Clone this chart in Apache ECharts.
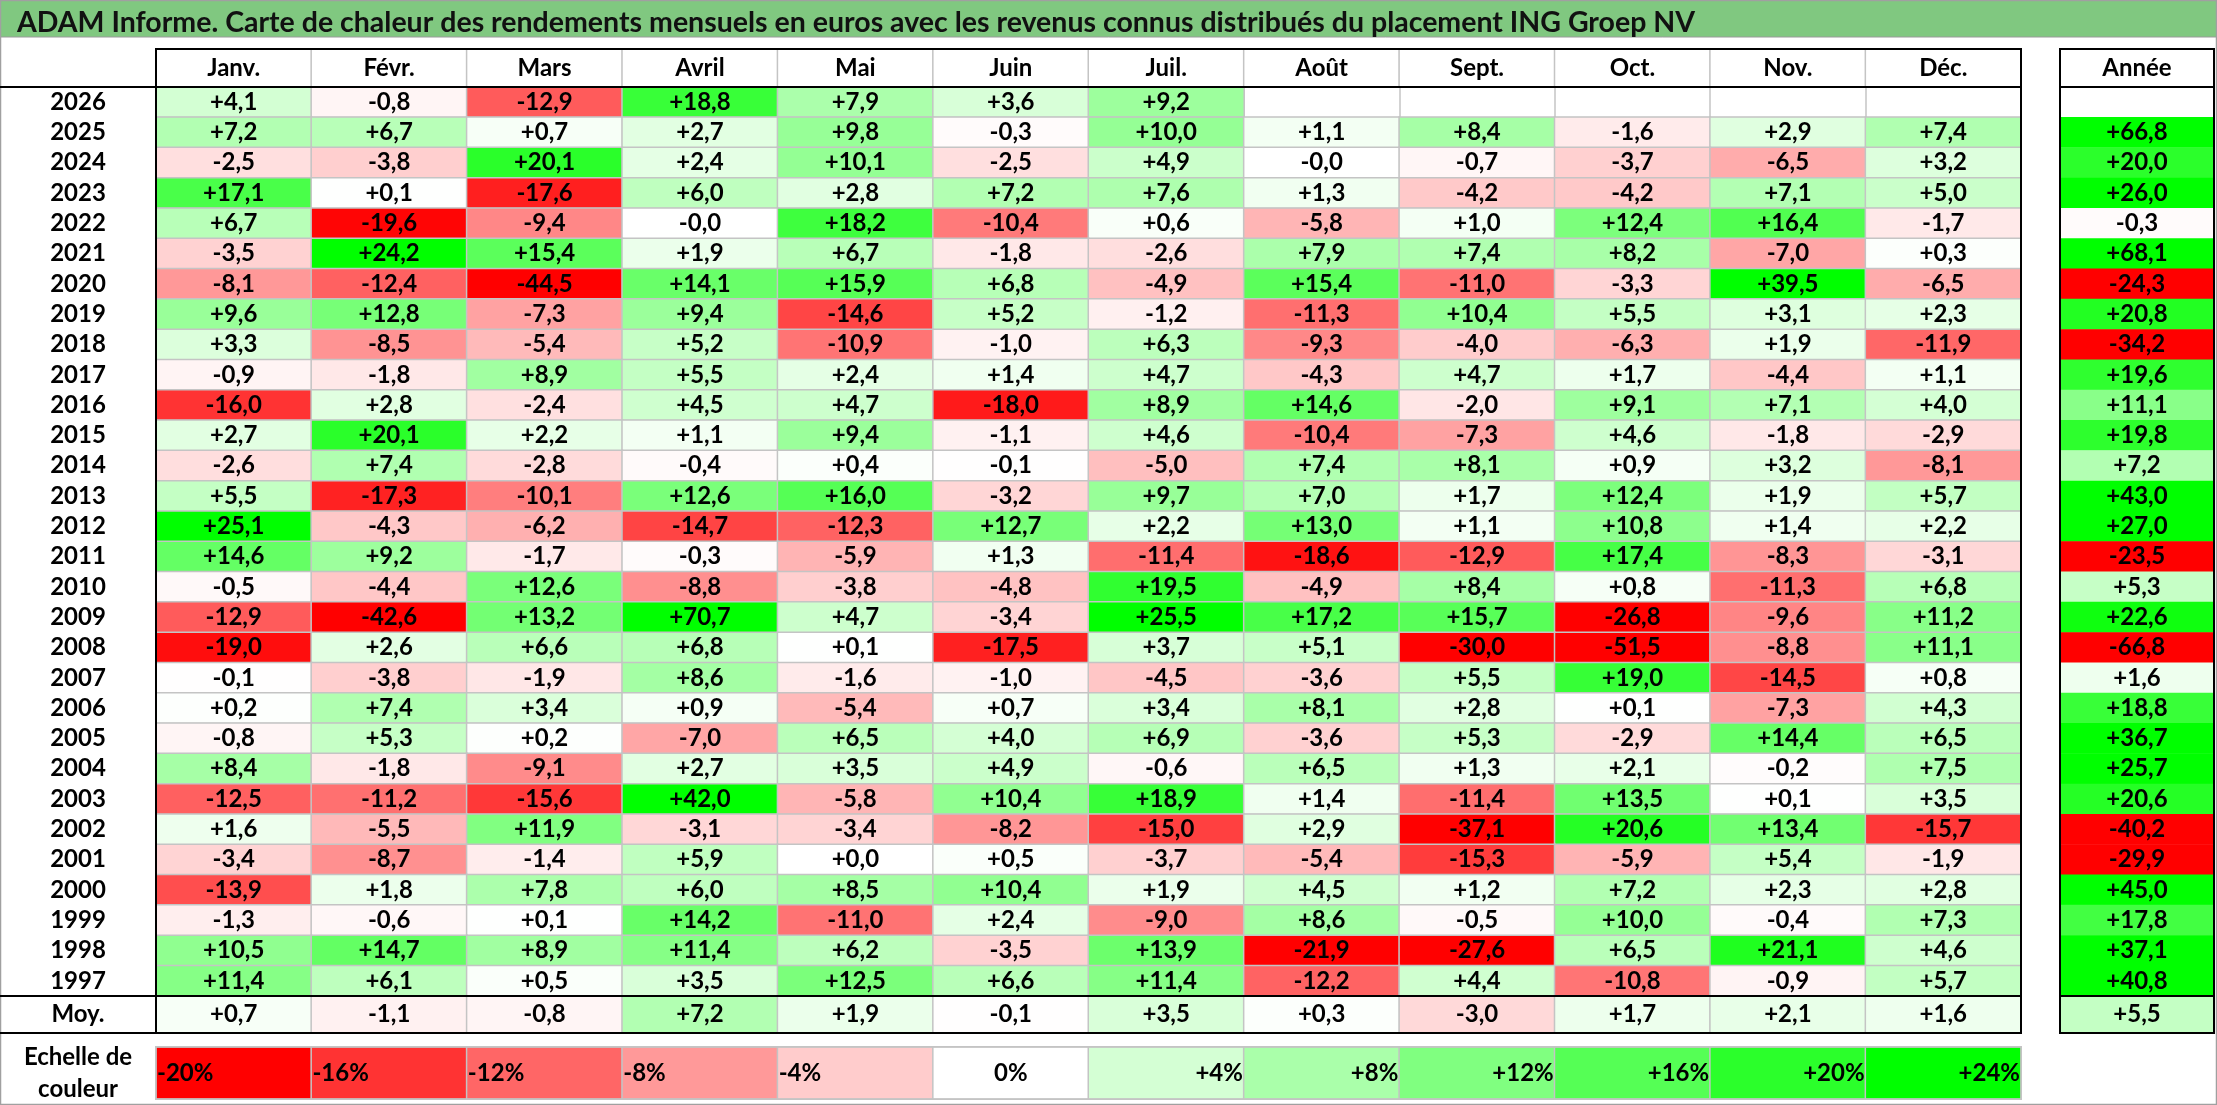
<!DOCTYPE html>
<html><head><meta charset="utf-8">
<script src="https://cdn.jsdelivr.net/npm/echarts@6/dist/echarts.min.js"></script>
<style>html,body{margin:0;padding:0;background:#fff}#c{width:2217px;height:1105px}</style>
</head><body><div id="c"></div>
<script>
const chartTitle = 'ADAM Informe. Carte de chaleur des rendements mensuels en euros avec les revenus connus distribués du placement ING Groep NV';
const months = ['Janv.','Févr.','Mars','Avril','Mai','Juin','Juil.','Août','Sept.','Oct.','Nov.','Déc.'];
const annualHeader = 'Année';
const averageLabel = 'Moy.';
const scaleLabel = 'Echelle de\ncouleur';
const years = [2026,2025,2024,2023,2022,2021,2020,2019,2018,2017,2016,2015,2014,2013,2012,2011,2010,2009,2008,2007,2006,2005,2004,2003,2002,2001,2000,1999,1998,1997];
const monthlyReturns = [
  [4.1,-0.8,-12.9,18.8,7.9,3.6,9.2,null,null,null,null,null],
  [7.2,6.7,0.7,2.7,9.8,-0.3,10.0,1.1,8.4,-1.6,2.9,7.4],
  [-2.5,-3.8,20.1,2.4,10.1,-2.5,4.9,-0.0,-0.7,-3.7,-6.5,3.2],
  [17.1,0.1,-17.6,6.0,2.8,7.2,7.6,1.3,-4.2,-4.2,7.1,5.0],
  [6.7,-19.6,-9.4,-0.0,18.2,-10.4,0.6,-5.8,1.0,12.4,16.4,-1.7],
  [-3.5,24.2,15.4,1.9,6.7,-1.8,-2.6,7.9,7.4,8.2,-7.0,0.3],
  [-8.1,-12.4,-44.5,14.1,15.9,6.8,-4.9,15.4,-11.0,-3.3,39.5,-6.5],
  [9.6,12.8,-7.3,9.4,-14.6,5.2,-1.2,-11.3,10.4,5.5,3.1,2.3],
  [3.3,-8.5,-5.4,5.2,-10.9,-1.0,6.3,-9.3,-4.0,-6.3,1.9,-11.9],
  [-0.9,-1.8,8.9,5.5,2.4,1.4,4.7,-4.3,4.7,1.7,-4.4,1.1],
  [-16.0,2.8,-2.4,4.5,4.7,-18.0,8.9,14.6,-2.0,9.1,7.1,4.0],
  [2.7,20.1,2.2,1.1,9.4,-1.1,4.6,-10.4,-7.3,4.6,-1.8,-2.9],
  [-2.6,7.4,-2.8,-0.4,0.4,-0.1,-5.0,7.4,8.1,0.9,3.2,-8.1],
  [5.5,-17.3,-10.1,12.6,16.0,-3.2,9.7,7.0,1.7,12.4,1.9,5.7],
  [25.1,-4.3,-6.2,-14.7,-12.3,12.7,2.2,13.0,1.1,10.8,1.4,2.2],
  [14.6,9.2,-1.7,-0.3,-5.9,1.3,-11.4,-18.6,-12.9,17.4,-8.3,-3.1],
  [-0.5,-4.4,12.6,-8.8,-3.8,-4.8,19.5,-4.9,8.4,0.8,-11.3,6.8],
  [-12.9,-42.6,13.2,70.7,4.7,-3.4,25.5,17.2,15.7,-26.8,-9.6,11.2],
  [-19.0,2.6,6.6,6.8,0.1,-17.5,3.7,5.1,-30.0,-51.5,-8.8,11.1],
  [-0.1,-3.8,-1.9,8.6,-1.6,-1.0,-4.5,-3.6,5.5,19.0,-14.5,0.8],
  [0.2,7.4,3.4,0.9,-5.4,0.7,3.4,8.1,2.8,0.1,-7.3,4.3],
  [-0.8,5.3,0.2,-7.0,6.5,4.0,6.9,-3.6,5.3,-2.9,14.4,6.5],
  [8.4,-1.8,-9.1,2.7,3.5,4.9,-0.6,6.5,1.3,2.1,-0.2,7.5],
  [-12.5,-11.2,-15.6,42.0,-5.8,10.4,18.9,1.4,-11.4,13.5,0.1,3.5],
  [1.6,-5.5,11.9,-3.1,-3.4,-8.2,-15.0,2.9,-37.1,20.6,13.4,-15.7],
  [-3.4,-8.7,-1.4,5.9,0.0,0.5,-3.7,-5.4,-15.3,-5.9,5.4,-1.9],
  [-13.9,1.8,7.8,6.0,8.5,10.4,1.9,4.5,1.2,7.2,2.3,2.8],
  [-1.3,-0.6,0.1,14.2,-11.0,2.4,-9.0,8.6,-0.5,10.0,-0.4,7.3],
  [10.5,14.7,8.9,11.4,6.2,-3.5,13.9,-21.9,-27.6,6.5,21.1,4.6],
  [11.4,6.1,0.5,3.5,12.5,6.6,11.4,-12.2,4.4,-10.8,-0.9,5.7]
];
const annualReturns = [null,66.8,20.0,26.0,-0.3,68.1,-24.3,20.8,-34.2,19.6,11.1,19.8,7.2,43.0,27.0,-23.5,5.3,22.6,-66.8,1.6,18.8,36.7,25.7,20.6,-40.2,-29.9,45.0,17.8,37.1,40.8];
const monthlyAverage = [0.7,-1.1,-0.8,7.2,1.9,-0.1,3.5,0.3,-3.0,1.7,2.1,1.6];
const annualAverage = [5.5];
const scaleSteps = [-20,-16,-12,-8,-4,0,4,8,12,16,20,24];

// layout (pixels)
const W = 2217, H = 1105;
const TL = 156, TW = 1865, AL = 2060, AW = 154;
const HT = 49, HH = 38, DT = 87, DH = 909, MT = 996, MH = 37, ST = 1047, SH = 56;
const FONT = 'Lato';
const GRID_LINE = '#C4C4C4';
const FS = 24;

function fmt(v) {
  const neg = v < 0 || Object.is(v, -0);
  return (neg ? '-' : '+') + Math.abs(v).toFixed(1).replace('.', ',');
}
const cellLabel = { show: true, color: '#000', fontFamily: FONT, fontWeight: 'bold', fontSize: FS };
const cellItem = { borderColor: GRID_LINE, borderWidth: 1.5 };

function grid(left, top, width, height) {
  return { left, top, width, height, show: true, z: 10, borderColor: '#000', borderWidth: 2, backgroundColor: 'transparent' };
}
function catAxis(gridIndex, data, opts) {
  return Object.assign({
    gridIndex, type: 'category', data, inverse: false,
    axisLine: { show: false }, axisTick: { show: false }, axisLabel: { show: false },
    splitLine: { show: false }
  }, opts || {});
}
const sideLabel = { show: true, interval: 0, color: '#000', fontFamily: FONT, fontWeight: 'bold', fontSize: FS, align: 'center', margin: TL / 2, lineHeight: 32 };

const mainData = [];
monthlyReturns.forEach((row, y) => row.forEach((v, x) => { if (v !== null) mainData.push([x, y, v]); }));
const annualData = [];
annualReturns.forEach((v, y) => { if (v !== null) annualData.push([0, y, v]); });

const colorStops = ['#FF0000','#FF0000','#FF3333','#FF6666','#FF9999','#FFCCCC','#FFFFFF','#D4FFD4','#AAFFAA','#80FF80','#55FF55','#2BFF2B','#00FF00'];

const option = {
  animation: false,
  backgroundColor: '#fff',
  title: {
    text: chartTitle, left: 12, top: 3,
    textStyle: { fontFamily: FONT, fontWeight: 'bold', fontSize: 28.5, color: '#111' }
  },
  graphic: [
    { type: 'rect', shape: { x: 0, y: 0, width: W, height: 37 }, style: { fill: '#80C880', stroke: '#9A9A9A', lineWidth: 1 }, z: -1 },
    { type: 'rect', shape: { x: 0.5, y: 0.5, width: W - 1, height: H - 1 }, style: { fill: 'none', stroke: '#A0A0A0', lineWidth: 1.5 }, z: 100 },
    { type: 'line', shape: { x1: 0, y1: DT, x2: TL, y2: DT }, style: { stroke: '#000', lineWidth: 2 }, z: 100 },
    { type: 'line', shape: { x1: 0, y1: MT, x2: TL, y2: MT }, style: { stroke: '#000', lineWidth: 2 }, z: 100 },
    { type: 'line', shape: { x1: 0, y1: MT + MH, x2: TL, y2: MT + MH }, style: { stroke: '#000', lineWidth: 2 }, z: 100 }
  ],
  grid: [
    grid(TL, HT, TW, HH),
    grid(TL, DT, TW, DH),
    grid(TL, MT, TW, MH),
    grid(AL, HT, AW, HH),
    grid(AL, DT, AW, DH),
    grid(AL, MT, AW, MH),
    Object.assign(grid(TL, ST, TW, SH), { borderColor: GRID_LINE, borderWidth: 1.5 })
  ],
  xAxis: [
    catAxis(0, months),
    catAxis(1, months, { splitLine: { show: true, interval: 0, lineStyle: { color: GRID_LINE, width: 1.5 } } }),
    catAxis(2, months),
    catAxis(3, [annualHeader]),
    catAxis(4, [annualHeader]),
    catAxis(5, [annualHeader]),
    catAxis(6, scaleSteps)
  ],
  yAxis: [
    catAxis(0, ['']),
    catAxis(1, years, { inverse: true, axisLabel: sideLabel }),
    catAxis(2, [averageLabel], { axisLabel: sideLabel }),
    catAxis(3, ['']),
    catAxis(4, years, { inverse: true }),
    catAxis(5, [averageLabel]),
    catAxis(6, [scaleLabel], { axisLabel: sideLabel })
  ],
  visualMap: {
    type: 'continuous', show: false, min: -24, max: 24, dimension: 2,
    seriesIndex: [1, 2, 4, 5, 6],
    inRange: { color: colorStops }
  },
  series: [
    { type: 'heatmap', xAxisIndex: 0, yAxisIndex: 0,
      data: months.map((m, i) => ({ value: [i, 0, 0], itemStyle: { color: '#fff' } })),
      itemStyle: cellItem,
      label: Object.assign({}, cellLabel, { formatter: p => months[p.value[0]] }) },
    { type: 'heatmap', xAxisIndex: 1, yAxisIndex: 1, data: mainData, itemStyle: cellItem,
      label: Object.assign({}, cellLabel, { formatter: p => fmt(monthlyReturns[p.value[1]][p.value[0]]) }) },
    { type: 'heatmap', xAxisIndex: 2, yAxisIndex: 2, data: monthlyAverage.map((v, i) => [i, 0, v]), itemStyle: cellItem,
      label: Object.assign({}, cellLabel, { formatter: p => fmt(monthlyAverage[p.value[0]]) }) },
    { type: 'heatmap', xAxisIndex: 3, yAxisIndex: 3,
      data: [{ value: [0, 0, 0], itemStyle: { color: '#fff' } }], itemStyle: cellItem,
      label: Object.assign({}, cellLabel, { formatter: () => annualHeader }) },
    { type: 'heatmap', xAxisIndex: 4, yAxisIndex: 4, data: annualData, itemStyle: { borderWidth: 0 },
      label: Object.assign({}, cellLabel, { formatter: p => fmt(annualReturns[p.value[1]]) }) },
    { type: 'heatmap', xAxisIndex: 5, yAxisIndex: 5, data: annualAverage.map(v => [0, 0, v]), itemStyle: cellItem,
      label: Object.assign({}, cellLabel, { formatter: p => fmt(annualAverage[0]) }) },
    { type: 'heatmap', xAxisIndex: 6, yAxisIndex: 6,
      data: scaleSteps.map((v, i) => ({ value: [i, 0, v], label: { position: v < 0 ? 'insideLeft' : (v > 0 ? 'insideRight' : 'inside'), distance: 2 } })),
      itemStyle: cellItem,
      label: Object.assign({}, cellLabel, { formatter: p => (p.value[2] > 0 ? '+' : '') + p.value[2] + '%' }) }
  ]
};
const chart = echarts.init(document.getElementById('c'), null, { renderer: 'canvas', width: W, height: H });
chart.setOption(option);
</script></body></html>
